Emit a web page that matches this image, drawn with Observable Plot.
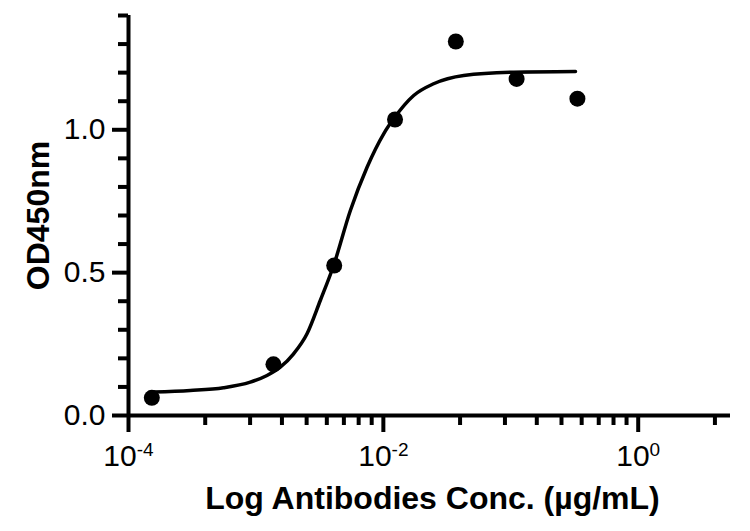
<!DOCTYPE html>
<html>
<head>
<meta charset="utf-8">
<script src="https://cdn.jsdelivr.net/npm/d3@7"></script>
<script src="https://cdn.jsdelivr.net/npm/@observablehq/plot@0.6"></script>
<style>
  html, body { margin: 0; padding: 0; background: #fff; }
  #chart { width: 750px; height: 531px; }
</style>
</head>
<body>
<div id="chart"></div>
<script>
// ---- data ----
const concentration = [1.524e-4, 1.372e-3, 4.115e-3, 1.235e-2, 3.704e-2, 0.1111, 0.3333]; // µg/mL
const od450 = [0.062, 0.179, 0.525, 1.036, 1.309, 1.178, 1.109];

// fitted curve
const fitConc = [1.57e-4, 3.05e-4, 5.57e-4, 9.03e-4, 1.221e-3, 1.552e-3, 1.975e-3, 2.518e-3, 3.20e-3, 4.07e-3, 5.51e-3, 7.45e-3, 1.006e-2, 1.216e-2, 1.73e-2, 2.48e-2, 4.27e-2, 0.1054, 0.322];
const fitOD = [0.082, 0.0875, 0.097, 0.1166, 0.14, 0.169, 0.216, 0.286, 0.4025, 0.525, 0.7175, 0.869, 0.986, 1.041, 1.12, 1.161, 1.19, 1.2016, 1.204];

// axes
const xDomain = [1e-4, 5.3];
const yDomain = [0, 1.4];
const xMajorTicks = [1e-4, 1e-2, 1];
const xMajorLabels = ["10^-4", "10^-2", "10^0"];
const xMinorTicks = [4e-4, 9e-4, 1.6e-3, 2.5e-3, 3.6e-3, 4.9e-3, 6.4e-3, 8.1e-3,
                     4e-2, 9e-2, 0.16, 0.25, 0.36, 0.49, 0.64, 0.81, 4];
const yMajorTicks = [0, 0.5, 1.0];
const yMajorLabels = ["0.0", "0.5", "1.0"];
const yMinorTicks = [0.1, 0.2, 0.3, 0.4, 0.6, 0.7, 0.8, 0.9, 1.1, 1.2, 1.3, 1.4];
const xTitle = "Log Antibodies Conc. (µg/mL)";
const yTitle = "OD450nm";

const points = concentration.map((c, i) => ({c, od: od450[i]}));
const fit = fitConc.map((c, i) => ({c, od: fitOD[i]}));
const xLabels = xMajorTicks.map((t, i) => ({t, label: xMajorLabels[i]}));
const yLabels = yMajorTicks.map((t, i) => ({t, label: yMajorLabels[i]}));

const FONT = "'Liberation Sans', Arial, Helvetica, sans-serif";
const SW = 4;

const chart = Plot.plot({
  width: 750,
  height: 531,
  marginLeft: 128,
  marginRight: 20,
  marginTop: 15,
  marginBottom: 116,
  style: {background: "#fff", fontFamily: FONT, color: "#000"},
  x: {type: "log", domain: xDomain, axis: null},
  y: {domain: yDomain, axis: null},
  marks: [
    // axis lines
    Plot.ruleX([xDomain[0]], {y1: yDomain[0], y2: yDomain[1], stroke: "#000", strokeWidth: SW}),
    Plot.ruleY([yDomain[0]], {x1: xDomain[0], x2: xDomain[1], stroke: "#000", strokeWidth: SW}),
    // ticks
    Plot.axisY(yMajorTicks, {tickSize: 16, strokeWidth: SW, stroke: "#000", tickFormat: () => "", label: null}),
    Plot.axisY(yMinorTicks, {tickSize: 10, strokeWidth: SW, stroke: "#000", tickFormat: () => "", label: null}),
    Plot.axisX(xMajorTicks, {tickSize: 17, strokeWidth: SW, stroke: "#000", tickFormat: () => "", label: null}),
    Plot.axisX(xMinorTicks, {tickSize: 10, strokeWidth: SW, stroke: "#000", tickFormat: () => "", label: null}),
    // tick labels
    Plot.text(yLabels, {x: () => xDomain[0], y: "t", text: "label", dx: -23, textAnchor: "end",
      lineAnchor: "middle", fontSize: 30, fill: "#000"}),
    Plot.text(xLabels, {x: "t", y: () => yDomain[0], text: "label", dy: 41,
      lineAnchor: "middle", fontSize: 30, fill: "#000"}),
    // titles
    Plot.text([xTitle], {frameAnchor: "bottom", text: d => d, dy: 83, dx: 3, textAnchor: "middle",
      lineAnchor: "middle", fontSize: 32, fontWeight: "bold", fill: "#000"}),
    Plot.text([yTitle], {frameAnchor: "left", text: d => d, dx: -90, rotate: -90, textAnchor: "middle",
      lineAnchor: "middle", fontSize: 32, fontWeight: "bold", fill: "#000"}),
    // fitted curve and data
    Plot.line(fit, {x: "c", y: "od", curve: "monotone-x", stroke: "#000", strokeWidth: 3.5}),
    Plot.dot(points, {x: "c", y: "od", r: 8, fill: "#000", stroke: "none"})
  ]
});

// turn "10^-4" into 10 with a superscript exponent
chart.querySelectorAll("text").forEach(el => {
  const s = el.textContent;
  if (/^10\^/.test(s)) {
    const [base, exp] = s.split("^");
    el.textContent = "";
    const t1 = document.createElementNS("http://www.w3.org/2000/svg", "tspan");
    t1.textContent = base;
    const t2 = document.createElementNS("http://www.w3.org/2000/svg", "tspan");
    t2.textContent = exp;
    t2.setAttribute("font-size", "19");
    t2.setAttribute("dy", "-10");
    el.appendChild(t1);
    el.appendChild(t2);
  }
});

document.getElementById("chart").appendChild(chart);
</script>
</body>
</html>
